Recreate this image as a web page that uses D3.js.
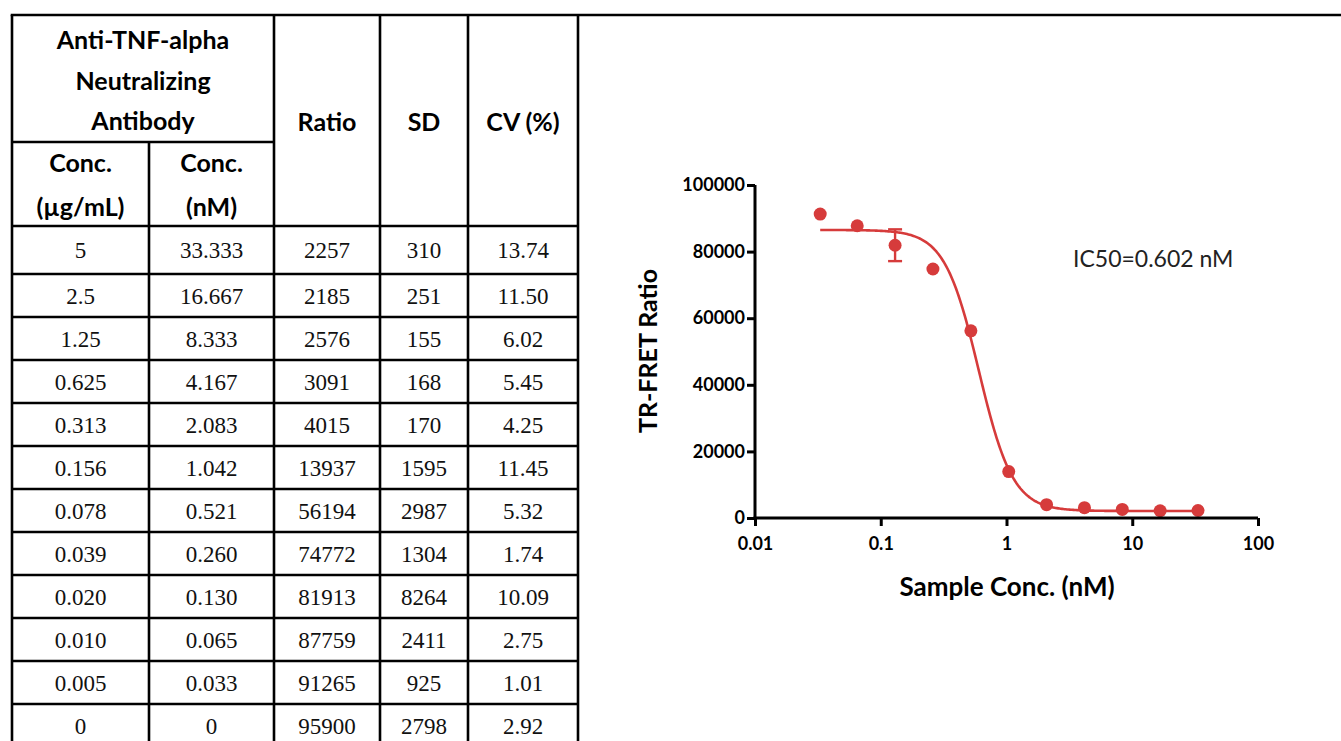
<!DOCTYPE html>
<html>
<head>
<meta charset="utf-8">
<script src="https://cdn.jsdelivr.net/npm/d3@7"></script>
<style>
  html, body { margin: 0; padding: 0; background: #ffffff; }
  svg { display: block; }
</style>
</head>
<body>
<svg id="chart" width="1341" height="741"></svg>
<script>
// ---------- data ----------
const concUg = ["5", "2.5", "1.25", "0.625", "0.313", "0.156", "0.078", "0.039", "0.020", "0.010", "0.005", "0"];
const concNM = ["33.333", "16.667", "8.333", "4.167", "2.083", "1.042", "0.521", "0.260", "0.130", "0.065", "0.033", "0"];
const ratio = [2257, 2185, 2576, 3091, 4015, 13937, 56194, 74772, 81913, 87759, 91265, 95900];
const sd = [310, 251, 155, 168, 170, 1595, 2987, 1304, 8264, 2411, 925, 2798];
const cv = ["13.74", "11.50", "6.02", "5.45", "4.25", "11.45", "5.32", "1.74", "10.09", "2.75", "1.01", "2.92"];
const replicates = 3;

// 4PL fit parameters
const fitTop = 86500;
const fitBottom = 2100;
const fitHill = 3.2;
const fitIC50 = 0.602;

const xTicks = [0.01, 0.1, 1, 10, 100];
const xTickLabels = ["0.01", "0.1", "1", "10", "100"];
const yTicks = [0, 20000, 40000, 60000, 80000, 100000];

const headerGroup = ["Anti-TNF-alpha", "Neutralizing", "Antibody"];
const headerSub = [["Conc.", "(\u00b5g/mL)"], ["Conc.", "(nM)"]];
const headerOther = ["Ratio", "SD", "CV (%)"];

// ---------- layout ----------
const svg = d3.select("#chart");
const colEdges = [12, 149, 274, 380, 468, 578];
const tableTop = 15, subLine = 142, headBottom = 226;
const firstRowH = 48, rowH = 43;
const lineW = 2.6;
const sans = "Lato, 'Open Sans', sans-serif";
const serif = "'Liberation Serif', 'Times New Roman', serif";
const red = "#d63b3b";
const markerR = 6.5;

const rowTops = ratio.map((d, i) => i === 0 ? headBottom : headBottom + firstRowH + (i - 1) * rowH);
const rowHeights = ratio.map((d, i) => i === 0 ? firstRowH : rowH);

const tbl = svg.append("g");
// horizontal lines
tbl.append("line").attr("x1", colEdges[0] - lineW/2).attr("x2", 1341).attr("y1", tableTop).attr("y2", tableTop)
  .attr("stroke", "#000").attr("stroke-width", lineW);
tbl.append("line").attr("x1", colEdges[0]).attr("x2", colEdges[2]).attr("y1", subLine).attr("y2", subLine)
  .attr("stroke", "#000").attr("stroke-width", lineW);
tbl.append("line").attr("x1", colEdges[0]).attr("x2", colEdges[5]).attr("y1", headBottom).attr("y2", headBottom)
  .attr("stroke", "#000").attr("stroke-width", lineW);
rowTops.slice(1).forEach(y => {
  tbl.append("line").attr("x1", colEdges[0]).attr("x2", colEdges[5]).attr("y1", y).attr("y2", y)
    .attr("stroke", "#000").attr("stroke-width", lineW);
});
// vertical lines
colEdges.forEach((x, i) => {
  const y1 = (i === 1) ? subLine : tableTop;
  tbl.append("line").attr("x1", x).attr("x2", x).attr("y1", y1).attr("y2", 741)
    .attr("stroke", "#000").attr("stroke-width", lineW);
});

// header texts
const hdrFont = 25;
headerGroup.forEach((t, i) => {
  tbl.append("text").attr("x", (colEdges[0] + colEdges[2]) / 2).attr("y", 49 + i * 40.5)
    .attr("text-anchor", "middle").attr("font-family", sans).attr("font-weight", 700)
    .attr("font-size", hdrFont).attr("fill", "#000").text(t);
});
headerSub.forEach((lines, c) => {
  lines.forEach((t, i) => {
    tbl.append("text").attr("x", (colEdges[c] + colEdges[c + 1]) / 2).attr("y", 172 + i * 44)
      .attr("text-anchor", "middle").attr("font-family", sans).attr("font-weight", 700)
      .attr("font-size", hdrFont).attr("fill", "#000").text(t);
  });
});
headerOther.forEach((t, i) => {
  tbl.append("text").attr("x", (colEdges[i + 2] + colEdges[i + 3]) / 2).attr("y", 131)
    .attr("text-anchor", "middle").attr("font-family", sans).attr("font-weight", 700)
    .attr("font-size", hdrFont).attr("fill", "#000").text(t);
});

// body texts
const bodyCols = [concUg, concNM, ratio.map(String), sd.map(String), cv];
bodyCols.forEach((col, c) => {
  col.forEach((t, r) => {
    tbl.append("text").attr("x", (colEdges[c] + colEdges[c + 1]) / 2)
      .attr("y", rowTops[r] + rowHeights[r] / 2 + 8)
      .attr("text-anchor", "middle").attr("font-family", serif)
      .attr("font-size", 23).attr("fill", "#111").text(t);
  });
});

// ---------- chart ----------
const x = d3.scaleLog().domain([0.01, 100]).range([755, 1258]);
const y = d3.scaleLinear().domain([0, 100000]).range([518, 185]);

const pts = concNM.map((c, i) => ({ c: +c, r: ratio[i], e: sd[i] / Math.sqrt(replicates) }))
  .filter(d => d.c > 0);

// fitted curve
const cMin = d3.min(pts, d => d.c), cMax = d3.max(pts, d => d.c);
const curveData = d3.range(0, 301).map(k => {
  const c = Math.pow(10, Math.log10(cMin) + (Math.log10(cMax) - Math.log10(cMin)) * k / 300);
  return { c, r: fitBottom + (fitTop - fitBottom) / (1 + Math.pow(c / fitIC50, fitHill)) };
});
svg.append("path").datum(curveData)
  .attr("d", d3.line().x(d => x(d.c)).y(d => y(d.r)))
  .attr("fill", "none").attr("stroke", red).attr("stroke-width", 2.6);

// error bars (SEM), drawn only where they extend beyond the symbol
const eb = svg.append("g").attr("stroke", red).attr("stroke-width", 2.4);
pts.filter(d => Math.abs(y(d.r - d.e) - y(d.r)) > markerR).forEach(d => {
  eb.append("line").attr("x1", x(d.c)).attr("x2", x(d.c)).attr("y1", y(d.r - d.e)).attr("y2", y(d.r + d.e));
  eb.append("line").attr("x1", x(d.c) - 7).attr("x2", x(d.c) + 7).attr("y1", y(d.r - d.e)).attr("y2", y(d.r - d.e));
  eb.append("line").attr("x1", x(d.c) - 7).attr("x2", x(d.c) + 7).attr("y1", y(d.r + d.e)).attr("y2", y(d.r + d.e));
});

// points
svg.append("g").selectAll("circle").data(pts).join("circle")
  .attr("cx", d => x(d.c)).attr("cy", d => y(d.r)).attr("r", markerR).attr("fill", red);

// axes
const xAxis = svg.append("g").attr("transform", "translate(0,518)")
  .call(d3.axisBottom(x).tickValues(xTicks).tickFormat((d, i) => xTickLabels[i]).tickSize(8).tickSizeOuter(0).tickPadding(11));
const yAxis = svg.append("g").attr("transform", "translate(755,0)")
  .call(d3.axisLeft(y).tickValues(yTicks).tickFormat(d3.format("d")).tickSize(8).tickSizeOuter(0).tickPadding(2));
[xAxis, yAxis].forEach(a => {
  a.select(".domain").attr("stroke", "#000").attr("stroke-width", 3);
  a.selectAll(".tick line").attr("stroke", "#000").attr("stroke-width", 3);
  a.selectAll(".tick text").attr("font-family", sans).attr("font-weight", 700)
    .attr("font-size", 18).attr("fill", "#000");
});
xAxis.select(".domain").attr("d", "M" + (755 - 1.5) + ",0H" + 1258);
yAxis.select(".domain").attr("d", "M0,518V185");

// axis titles
svg.append("text").attr("transform", "translate(657,351) rotate(-90)")
  .attr("text-anchor", "middle").attr("font-family", sans).attr("font-weight", 700)
  .attr("font-size", 25).attr("fill", "#000").text("TR-FRET Ratio");
svg.append("text").attr("x", 1007).attr("y", 596)
  .attr("text-anchor", "middle").attr("font-family", sans).attr("font-weight", 700)
  .attr("font-size", 26).attr("fill", "#000").text("Sample Conc. (nM)");

// IC50 annotation
svg.append("text").attr("x", 1073).attr("y", 267)
  .attr("font-family", sans).attr("font-size", 23).attr("fill", "#222")
  .text("IC50=" + fitIC50 + " nM");
</script>
</body>
</html>
